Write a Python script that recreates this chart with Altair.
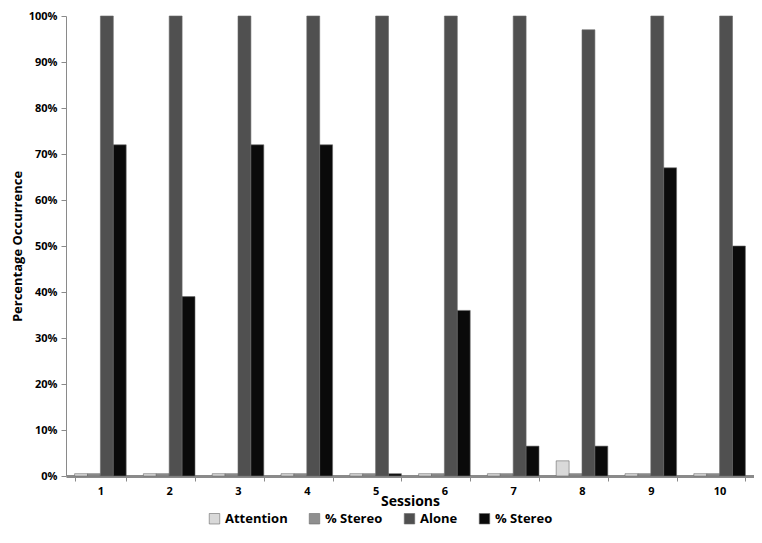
import altair as alt
import pandas as pd

sessions = ["1", "2", "3", "4", "5", "6", "7", "8", "9", "10"]
series_names = ["Attention", "% Stereo", "Alone", "% Stereo "]
attention = [0.5, 0.5, 0.5, 0.5, 0.5, 0.5, 0.5, 3.3, 0.5, 0.5]
stereo_att = [0.5, 0.5, 0.5, 0.5, 0.5, 0.5, 0.5, 0.5, 0.5, 0.5]
alone = [100, 100, 100, 100, 100, 100, 100, 97, 100, 100]
stereo_alone = [72, 39, 72, 72, 0.5, 36, 6.5, 6.5, 67, 50]
colors = ["#d9d9d9", "#8f8f8f", "#505050", "#0a0a0a"]

rows = []
for name, vals in zip(series_names, [attention, stereo_att, alone, stereo_alone]):
    for s, v in zip(sessions, vals):
        rows.append({"session": s, "series": name, "value": v})
df = pd.DataFrame(rows)

font = "Open Sans"

bars = alt.Chart(df).mark_bar(stroke="#6a6a6a", strokeWidth=0.6).encode(
    x=alt.X("session:N", sort=sessions,
            scale=alt.Scale(paddingInner=0.25, paddingOuter=0.125),
            axis=alt.Axis(title="Sessions", labelAngle=0, tickBand="extent",
                          domainColor="#8a8a8a", domainWidth=3,
                          tickColor="#8a8a8a", tickSize=5,
                          labelFont=font, labelFontWeight="bold", labelFontSize=11,
                          labelColor="#000", labelPadding=4,
                          titleFont=font, titleFontWeight="bold", titleFontSize=14,
                          titleColor="#000", titlePadding=-2)),
    xOffset=alt.XOffset("series:N", sort=series_names),
    y=alt.Y("value:Q", scale=alt.Scale(domain=[0, 100], nice=False),
            axis=alt.Axis(title="Percentage Occurrence", values=list(range(0, 101, 10)),
                          labelExpr="datum.value + '%'", grid=False,
                          domainColor="#8a8a8a", tickColor="#8a8a8a", tickSize=5,
                          labelFont=font, labelFontWeight="bold", labelFontSize=11,
                          labelColor="#000", labelPadding=4,
                          titleFont=font, titleFontWeight="bold", titleFontSize=13,
                          titleColor="#000", titlePadding=4)),
    color=alt.Color("series:N", sort=series_names,
                    scale=alt.Scale(domain=series_names, range=colors),
                    legend=alt.Legend(orient="none", legendX=142, legendY=496,
                                      direction="horizontal", title=None,
                                      symbolType="square", symbolSize=110,
                                      symbolStrokeColor="#6a6a6a", symbolStrokeWidth=0.6,
                                      labelFont=font, labelFontWeight="bold",
                                      labelFontSize=13, labelColor="#000",
                                      columnPadding=20)),
)

chart = bars.properties(
    width=688, height=460,
    autosize=alt.AutoSizeParams(type="none"),
    padding={"left": 58, "top": 8, "right": 0, "bottom": 59},
).configure_view(stroke=None)

chart.save("out.html", embed_options={"renderer": "svg", "actions": False})
